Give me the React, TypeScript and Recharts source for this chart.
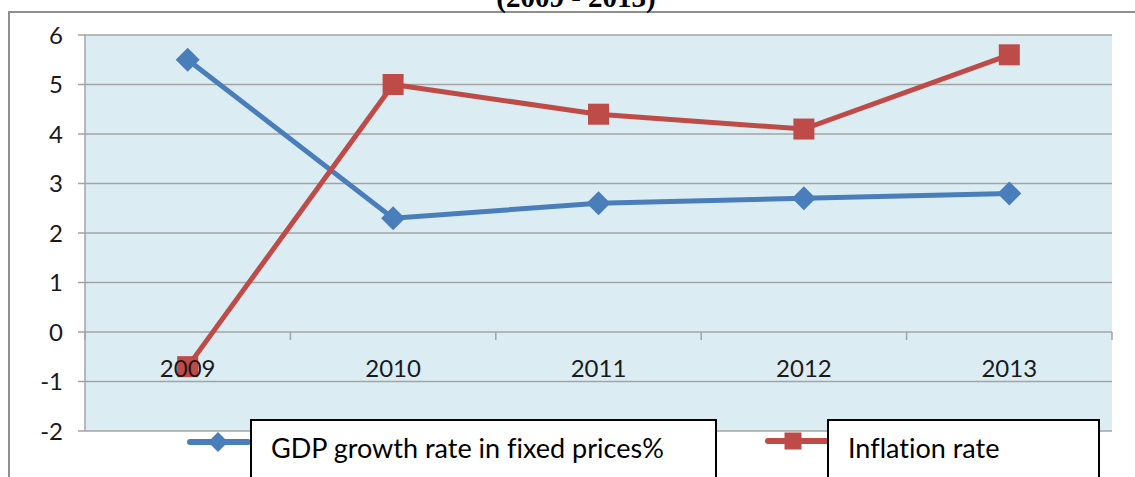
import React from "react";
import { LineChart, Line, XAxis, YAxis, CartesianGrid } from "recharts";

const years = ["2009", "2010", "2011", "2012", "2013"];
const gdpGrowth = [5.5, 2.3, 2.6, 2.7, 2.8];
const inflation = [-0.7, 5.0, 4.4, 4.1, 5.6];
const yTicks = [-2, -1, 0, 1, 2, 3, 4, 5, 6];

const data = years.map((year, i) => ({ year, gdp: gdpGrowth[i], inflation: inflation[i] }));

const W = 1135;
const H = 477;
const M = { top: 35, right: 23, bottom: 16, left: 25 };
const Y_AXIS_W = 60;
const X_AXIS_H = 30;
const PLOT_LEFT = M.left + Y_AXIS_W;
const PLOT_W = W - PLOT_LEFT - M.right;
const PLOT_H = H - M.top - M.bottom - X_AXIS_H;
const Y_MIN = -2;
const Y_MAX = 6;
// pixel row of value 0, where the category axis sits
const Y_ZERO = M.top + (PLOT_H * (Y_MAX - 0)) / (Y_MAX - Y_MIN);
const BAND = PLOT_W / years.length;

const BLUE = "#4a7ebb";
const RED = "#be4b48";
const GRID = "#a3a3a3";
const FONT = "Lato, 'Open Sans', sans-serif";

const Diamond = ({ cx, cy, fill, size = 12 }: any) => (
  <polygon
    points={`${cx},${cy - size} ${cx + size},${cy} ${cx},${cy + size} ${cx - size},${cy}`}
    fill={fill}
  />
);

const Square = ({ cx, cy, fill, side = 21 }: any) => (
  <rect x={cx - side / 2} y={cy - side / 2} width={side} height={side} fill={fill} />
);

// category labels sit just under the zero line, ticks at band boundaries
const YearTick = ({ x, payload, index }: any) => (
  <g>
    <line x1={x - BAND / 2} x2={x - BAND / 2} y1={Y_ZERO} y2={Y_ZERO + 8} stroke={GRID} strokeWidth={1.5} />
    {index === years.length - 1 && (
      <line x1={x + BAND / 2} x2={x + BAND / 2} y1={Y_ZERO} y2={Y_ZERO + 8} stroke={GRID} strokeWidth={1.5} />
    )}
    <text x={x} y={Y_ZERO + 45} textAnchor="middle" fontSize={24} fontFamily={FONT} fill="#1a1a1a">
      {payload.value}
    </text>
  </g>
);

const legendBox: React.CSSProperties = {
  position: "absolute",
  top: 419,
  height: 60,
  border: "2px solid #000",
  background: "#fff",
  boxSizing: "border-box",
  paddingLeft: 19,
  paddingTop: 12,
  fontFamily: FONT,
  fontSize: 27,
  lineHeight: "30px",
  fontVariantLigatures: "none",
  color: "#000",
};

export default function App() {
  return (
    <div style={{ position: "absolute", left: 0, top: 0, width: W, height: H, overflow: "hidden", background: "#fff" }}>
      {/* frame */}
      <div
        style={{
          position: "absolute",
          left: 8,
          top: 11,
          width: W - 8,
          height: H,
          borderTop: "2px solid #8f8f8f",
          borderLeft: "2px solid #8f8f8f",
        }}
      />
      <div
        style={{
          position: "absolute",
          left: 0,
          width: 1152,
          top: -17,
          textAlign: "center",
          fontFamily: "'Liberation Serif', serif",
          fontWeight: 700,
          fontSize: 29,
          lineHeight: "29px",
        }}
      >
        (2009 - 2013)
      </div>

      <div style={{ position: "absolute", left: 0, top: 0 }}>
        <LineChart width={W} height={H} data={data} margin={M}>
          <CartesianGrid vertical={false} fill="#dbedf3" stroke={GRID} strokeWidth={1.5} />
          <XAxis
            dataKey="year"
            height={X_AXIS_H}
            axisLine={false}
            tickLine={false}
            interval={0}
            padding={{ left: BAND / 2, right: BAND / 2 }}
            tick={<YearTick />}
          />
          <YAxis
            width={Y_AXIS_W}
            domain={[Y_MIN, Y_MAX]}
            ticks={yTicks}
            interval={0}
            axisLine={{ stroke: GRID, strokeWidth: 1.5 }}
            tickLine={{ stroke: GRID, strokeWidth: 1.5 }}
            tickSize={7}
            tickMargin={15}
            tick={{ fontSize: 24, fontFamily: FONT, fill: "#1a1a1a" }}
          />
          <Line
            dataKey="gdp"
            stroke={BLUE}
            strokeWidth={5}
            dot={<Diamond fill={BLUE} />}
            activeDot={false}
            isAnimationActive={false}
          />
          <Line
            dataKey="inflation"
            stroke={RED}
            strokeWidth={5}
            dot={<Square fill={RED} />}
            activeDot={false}
            isAnimationActive={false}
          />
        </LineChart>
      </div>

      {/* legend */}
      <svg style={{ position: "absolute", left: 0, top: 0 }} width={W} height={H}>
        <line x1={190} x2={248} y1={442} y2={442} stroke={BLUE} strokeWidth={6} strokeLinecap="round" />
        <Diamond cx={218} cy={442} size={10} fill={BLUE} />
        <line x1={768} x2={826} y1={441} y2={441} stroke={RED} strokeWidth={6} strokeLinecap="round" />
        <Square cx={793} cy={441} side={17} fill={RED} />
      </svg>
      <div style={{ ...legendBox, left: 250, width: 467 }}>GDP growth rate in fixed prices%</div>
      <div style={{ ...legendBox, left: 827, width: 273 }}>Inflation rate</div>
    </div>
  );
}
